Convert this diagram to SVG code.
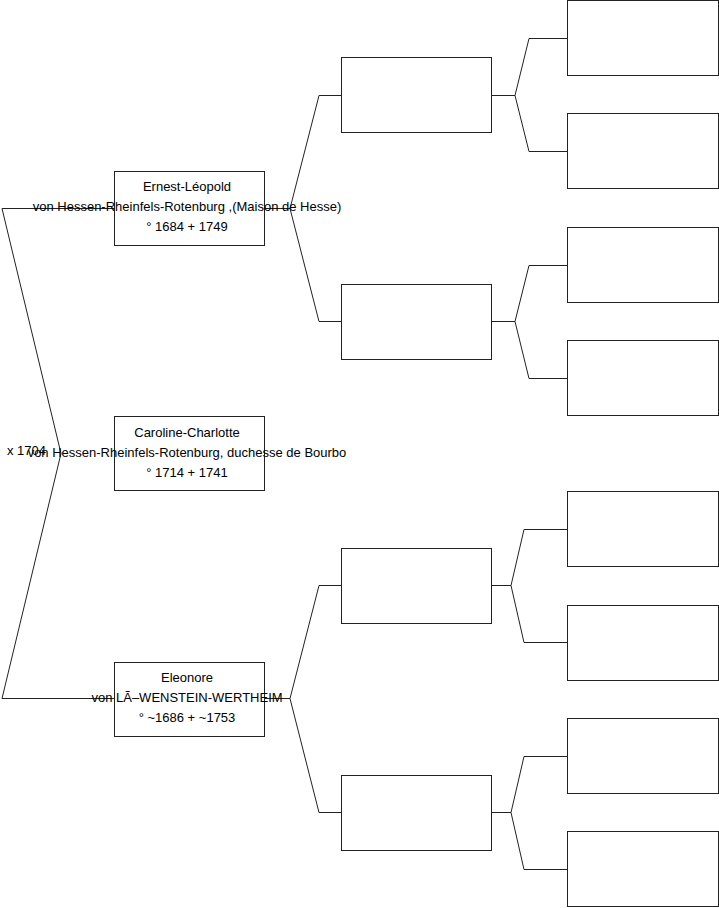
<svg xmlns="http://www.w3.org/2000/svg" width="719" height="908" viewBox="0 0 719 908">
<style>
.box{fill:#fff;stroke:#222;stroke-width:1}
.c{fill:none;stroke:#222;stroke-width:1}
text{font-family:"Liberation Sans",Arial,sans-serif;font-size:13px;fill:#000}
.m{text-anchor:middle}
</style>
<rect width="719" height="908" fill="#fff"/>
<g id="connectors">
<polyline class="c" points="114,208.5 2,208.5 61,453.5 2,698.5 114,698.5"/>
<polyline class="c" points="265,208.5 290,208.5 319,95.5 341,95.5"/>
<polyline class="c" points="290,208.5 319,321.5 341,321.5"/>
<polyline class="c" points="265,698.5 290,698.5 319,585.5 341,585.5"/>
<polyline class="c" points="290,698.5 319,812.5 341,812.5"/>
<polyline class="c" points="492,95.5 515,95.5 529,38.5 567,38.5"/>
<polyline class="c" points="515,95.5 529,151.5 567,151.5"/>
<polyline class="c" points="492,321.5 515,321.5 529,265.5 567,265.5"/>
<polyline class="c" points="515,321.5 529,378.5 567,378.5"/>
<polyline class="c" points="492,585.5 511,585.5 524,529.5 567,529.5"/>
<polyline class="c" points="511,585.5 524,642.5 567,642.5"/>
<polyline class="c" points="492,812.5 511,812.5 524,756.5 567,756.5"/>
<polyline class="c" points="511,812.5 524,869.5 567,869.5"/>
<text x="7" y="455">x 1704</text>
</g>
<g id="ernest">
<rect class="box" x="114.5" y="171.5" width="150" height="74"/>
<text class="m" x="187" y="191">Ernest-Léopold</text>
<text class="m" x="187" y="211">von Hessen-Rheinfels-Rotenburg ,(Maison de Hesse)</text>
<text class="m" x="187" y="231">° 1684 + 1749</text>
</g>
<g id="caroline">
<rect class="box" x="114.5" y="416.5" width="150" height="74"/>
<text class="m" x="187" y="437">Caroline-Charlotte</text>
<text class="m" x="187" y="457">von Hessen-Rheinfels-Rotenburg, duchesse de Bourbo</text>
<text class="m" x="187" y="477">° 1714 + 1741</text>
</g>
<g id="eleonore">
<rect class="box" x="114.5" y="662.5" width="150" height="74"/>
<text class="m" x="187" y="682">Eleonore</text>
<text class="m" x="187" y="702">von LÃ–WENSTEIN-WERTHEIM</text>
<text class="m" x="187" y="722">° ~1686 + ~1753</text>
</g>
<g id="p1"><rect class="box" x="341.5" y="57.5" width="150" height="75"/></g>
<g id="p2"><rect class="box" x="341.5" y="284.5" width="150" height="75"/></g>
<g id="p3"><rect class="box" x="341.5" y="548.5" width="150" height="75"/></g>
<g id="p4"><rect class="box" x="341.5" y="775.5" width="150" height="75"/></g>
<g id="g1"><rect class="box" x="567.5" y="0.5" width="151" height="75"/></g>
<g id="g2"><rect class="box" x="567.5" y="113.5" width="151" height="75"/></g>
<g id="g3"><rect class="box" x="567.5" y="227.5" width="151" height="75"/></g>
<g id="g4"><rect class="box" x="567.5" y="340.5" width="151" height="75"/></g>
<g id="g5"><rect class="box" x="567.5" y="491.5" width="151" height="75"/></g>
<g id="g6"><rect class="box" x="567.5" y="605.5" width="151" height="75"/></g>
<g id="g7"><rect class="box" x="567.5" y="718.5" width="151" height="75"/></g>
<g id="g8"><rect class="box" x="567.5" y="831.5" width="151" height="75"/></g>
</svg>
